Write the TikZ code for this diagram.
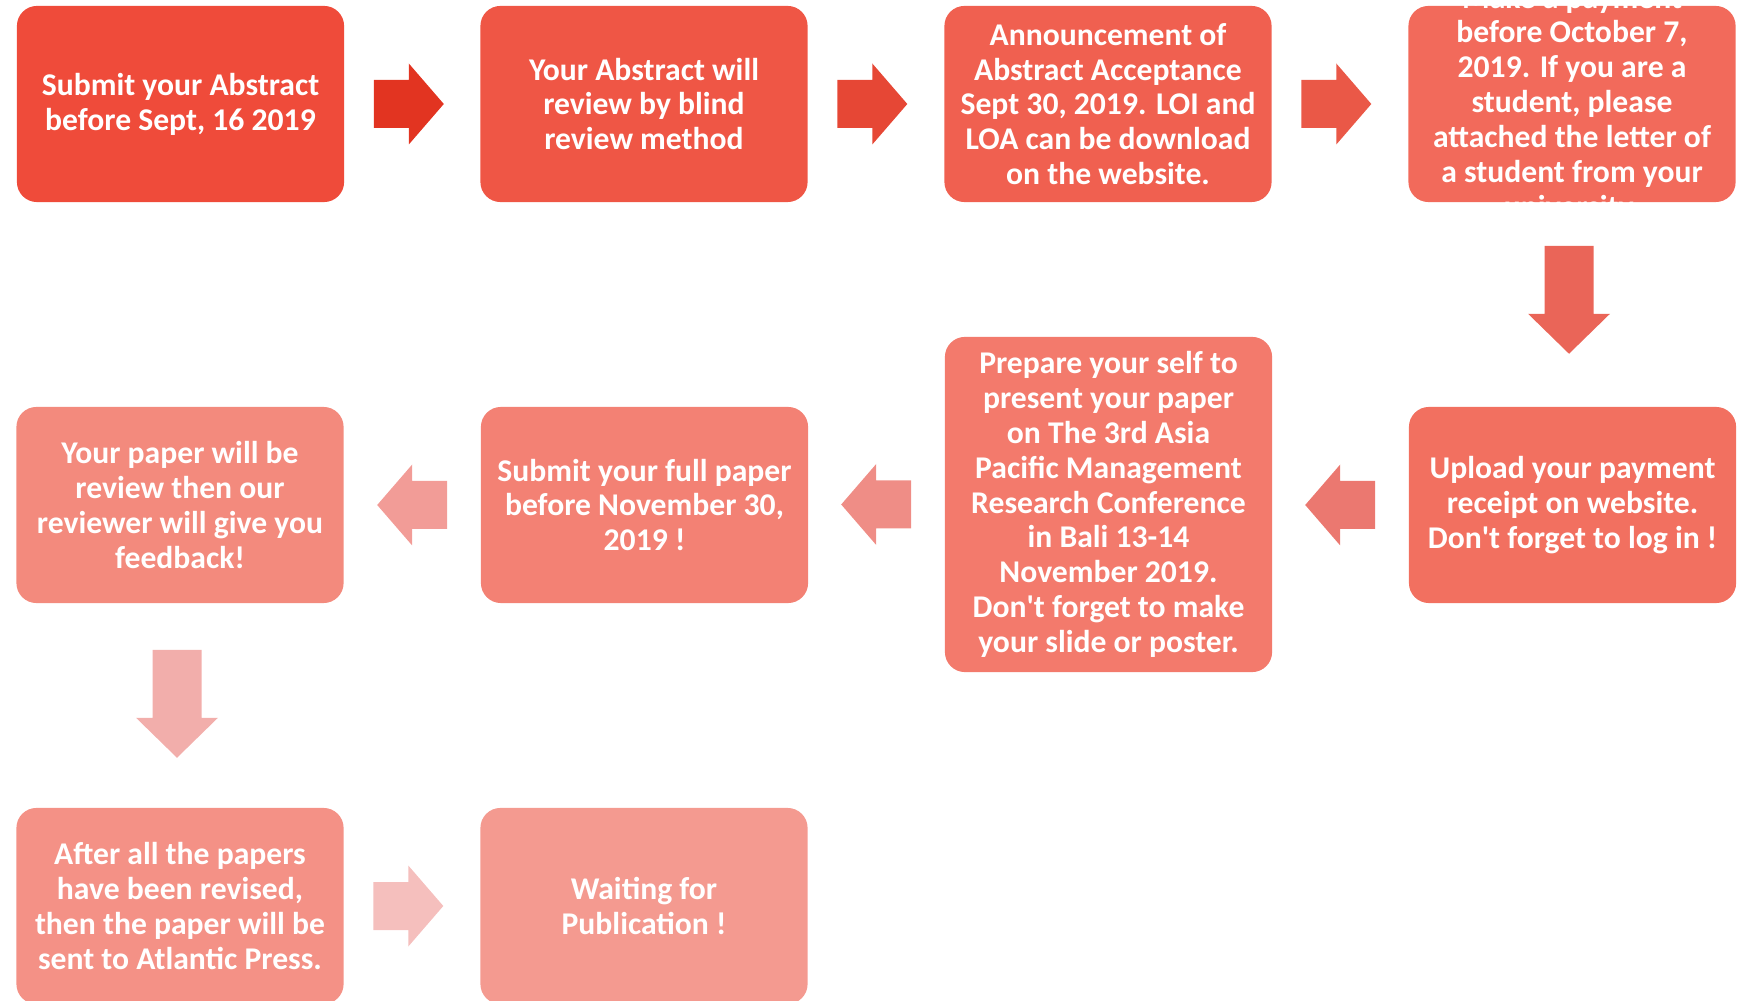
\documentclass[tikz,border=0pt]{standalone}
\usepackage{fontspec}
\setmainfont{Carlito}
\usetikzlibrary{calc}
\definecolor{boxA}{RGB}{239,75,58}
\definecolor{boxB}{RGB}{239,86,69}
\definecolor{boxC}{RGB}{240,96,80}
\definecolor{boxD}{RGB}{242,106,91}
\definecolor{boxE}{RGB}{242,112,96}
\definecolor{boxF}{RGB}{243,122,108}
\definecolor{boxG}{RGB}{243,129,116}
\definecolor{boxH}{RGB}{243,138,125}
\definecolor{boxI}{RGB}{244,145,134}
\definecolor{boxJ}{RGB}{244,154,144}
\definecolor{arrA}{RGB}{226,52,33}
\definecolor{arrB}{RGB}{230,71,53}
\definecolor{arrC}{RGB}{234,88,71}
\definecolor{arrD}{RGB}{234,101,88}
\definecolor{arrE}{RGB}{235,120,112}
\definecolor{arrF}{RGB}{239,141,134}
\definecolor{arrG}{RGB}{242,156,151}
\definecolor{arrH}{RGB}{242,174,171}
\definecolor{arrI}{RGB}{245,191,189}
\tikzset{
  stepbox/.style={rounded corners=0.2cm,minimum width=3.27cm,minimum height=1.96cm,
    inner sep=0pt,align=center,text=white,font=\bfseries\fontsize{9}{9.9}\selectfont},
  harrow/.pic={\fill (0,-24) -- (35,-24) -- (35,-40.5) -- (70,0) -- (35,40.5) -- (35,24) -- (0,24) -- cycle;},
  varrow/.pic={\fill (0,-24.5) -- (68,-24.5) -- (68,-41) -- (108,0) -- (68,41) -- (68,24.5) -- (0,24.5) -- cycle;}
}
\begin{document}
\begin{tikzpicture}[x=0.01cm,y=-0.01cm]
\useasboundingbox (0,0) rectangle (1743,1001);
% first row
\node(b1)[stepbox,fill=boxA] at (180.5,104){Submit your Abstract\\before Sept, 16 2019};
\node(b2)[stepbox,fill=boxB] at (644,104){Your Abstract will\\review by blind\\review method};
\node(b3)[stepbox,fill=boxC] at (1108,104){Announcement of\\Abstract Acceptance\\Sept 30, 2019. LOI and\\LOA can be download\\on the website.};
\node(b4)[stepbox,fill=boxD] at (1572,104){};
\begin{scope}
\clip (1400,-100) rectangle (1743,203);
\node(b4text)[stepbox,minimum height=0pt] at (b4){Make a payment\\before October 7,\\2019. If you are a\\student, please\\attached the letter of\\a student from your\\university.};
\end{scope}
% second row
\node(b5)[stepbox,fill=boxE] at (1572.5,505){Upload your payment\\receipt on website.\\Don\textquotesingle t forget to log in !};
\node(b6)[stepbox,fill=boxF,minimum height=3.35cm] at (1108.5,504.5){Prepare your self to\\present your paper\\on The 3rd Asia\\Pacific Management\\Research Conference\\in Bali 13-14\\November 2019.\\Don\textquotesingle t forget to make\\your slide or poster.};
\node(b7)[stepbox,fill=boxG] at (644.5,505){Submit your full paper\\before November 30,\\2019 !};
\node(b8)[stepbox,fill=boxH] at (180,505){Your paper will be\\review then our\\reviewer will give you\\feedback!};
% third row
\node(b9)[stepbox,fill=boxI] at (180,906){After all the papers\\have been revised,\\then the paper will be\\sent to Atlantic Press.};
\node(b10)[stepbox,fill=boxJ] at (644,906){Waiting for\\Publication !};
% arrows
\pic[fill=arrA] at ($(b1.east)+(29,0)$) {harrow};
\pic[fill=arrB] at ($(b2.east)+(29,0)$) {harrow};
\pic[fill=arrC] at ($(b3.east)+(29,0)$) {harrow};
\pic[fill=arrD,rotate=-90] at ($(b4.south)+(-3,43)$) {varrow};
\pic[fill=arrE,rotate=180] at ($(b5.west)+(-33,0)$) {harrow};
\pic[fill=arrF,rotate=180] at ($(b6.west)+(-33,0)$) {harrow};
\pic[fill=arrG,rotate=180] at ($(b7.west)+(-33,0)$) {harrow};
\pic[fill=arrH,rotate=-90] at ($(b8.south)+(-3,46)$) {varrow};
\pic[fill=arrI] at ($(b9.east)+(29,0)$) {harrow};
\end{tikzpicture}
\end{document}
